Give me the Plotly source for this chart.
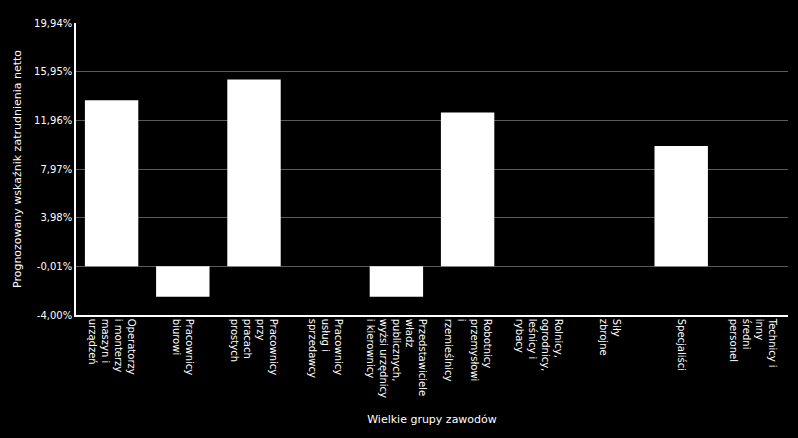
import plotly.graph_objects as go

CATEGORIES = [
    "Operatorzy<br>i monterzy<br>maszyn i<br>urządzeń",
    "Pracownicy<br>biurowi",
    "Pracownicy<br>przy<br>pracach<br>prostych",
    "Pracownicy<br>usług i<br>sprzedawcy",
    "Przedstawiciele<br>władz<br>publicznych,<br>wyżsi urzędnicy<br>i kierownicy",
    "Robotnicy<br>przemysłowi<br>i<br>rzemieślnicy",
    "Rolnicy,<br>ogrodnicy,<br>leśnicy i<br>rybacy",
    "Siły<br>zbrojne",
    "Specjaliści",
    "Technicy i<br>inny<br>średni<br>personel",
]
VALUES = [13.6, -2.5, 15.3, 0.0, -2.5, 12.6, 0.0, 0.0, 9.85, 0.0]

TICK_VALS = [-4.00, -0.01, 3.98, 7.97, 11.96, 15.95, 19.94]
TICK_TEXT = ["-4,00%", "-0,01%", "3,98%", "7,97%", "11,96%", "15,95%", "19,94%"]

FONT = "DejaVu Sans"

fig = go.Figure(go.Bar(
    x=CATEGORIES,
    y=VALUES,
    marker=dict(color="white", line=dict(width=0)),
))

fig.update_layout(
    width=798,
    height=438,
    paper_bgcolor="black",
    plot_bgcolor="black",
    font=dict(family=FONT, size=10, color="white"),
    margin=dict(l=76, r=10, t=23, b=123),
    bargap=0.25,
    showlegend=False,
    xaxis=dict(
        title=dict(text="Wielkie grupy zawodów", font=dict(size=11), standoff=18),
        tickangle=90,
        showline=True,
        linecolor="white",
        linewidth=1.5,
        showgrid=False,
        ticks="",
        tickfont=dict(size=10),
    ),
    yaxis=dict(
        title=dict(text="Prognozowany wskaźnik zatrudnienia netto", font=dict(size=11), standoff=10),
        range=[-4.0, 19.94],
        tickvals=TICK_VALS,
        ticktext=TICK_TEXT,
        showline=True,
        linecolor="white",
        linewidth=1.5,
        gridcolor="#5a5a5a",
        gridwidth=1,
        zeroline=False,
        ticks="",
        tickfont=dict(size=10),
    ),
)

# page body has a default margin; drop it so the chart fills the window
fig.write_html(
    "out.html",
    config={"displayModeBar": False},
    post_script="document.body.style.margin='0';document.body.style.background='black';",
)
